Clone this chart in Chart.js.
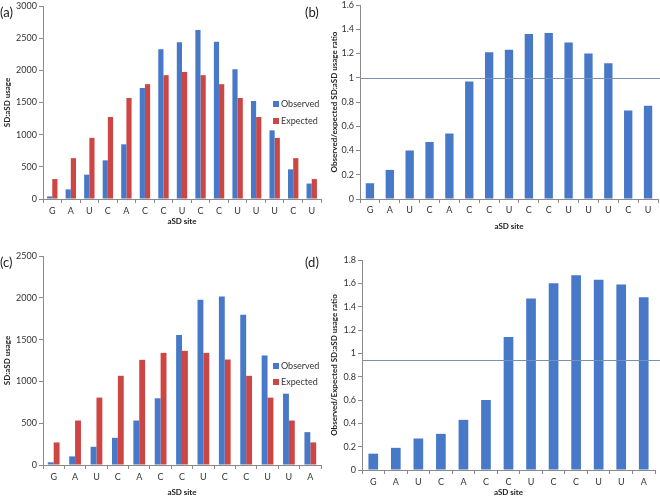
<!DOCTYPE html>
<html>
<head>
<meta charset="utf-8">
<script src="https://cdn.jsdelivr.net/npm/chart.js@4"></script>
<style>
  body { margin: 0; background: #fff; }
  #wrap { position: relative; width: 660px; height: 498px; font-family: Lato, sans-serif; }
  .pane { position: absolute; }
  .tag { position: absolute; font-size: 13px; color: #222; line-height: 13px; }
</style>
</head>
<body>
<div id="wrap">
  <div class="pane" style="left:0;top:0;width:330px;height:240px"><canvas id="chartA"></canvas></div>
  <div class="pane" style="left:330px;top:0;width:330px;height:240px"><canvas id="chartB"></canvas></div>
  <div class="pane" style="left:0;top:250px;width:330px;height:248px"><canvas id="chartC"></canvas></div>
  <div class="pane" style="left:330px;top:250px;width:330px;height:248px"><canvas id="chartD"></canvas></div>
  <div class="tag" style="left:0;top:6px">(a)</div>
  <div class="tag" style="left:305px;top:6px">(b)</div>
  <div class="tag" style="left:0;top:256px">(c)</div>
  <div class="tag" style="left:305px;top:256px">(d)</div>
</div>
<script>
// panels (a)/(b): 15 sites
var sitesA = ['G', 'A', 'U', 'C', 'A', 'C', 'C', 'U', 'C', 'C', 'U', 'U', 'U', 'C', 'U'];
var observedA = [40, 150, 378, 601, 850, 1725, 2326, 2435, 2627, 2446, 2016, 1523, 1067, 461, 240];
var expectedA = [310, 635, 950, 1275, 1570, 1785, 1925, 1975, 1925, 1785, 1570, 1275, 950, 635, 310];
var ratioB = [0.13, 0.24, 0.40, 0.47, 0.54, 0.97, 1.21, 1.23, 1.36, 1.37, 1.29, 1.20, 1.12, 0.73, 0.77];

// panels (c)/(d): 13 sites
var sitesC = ['G', 'A', 'U', 'C', 'A', 'C', 'C', 'U', 'C', 'C', 'U', 'U', 'A'];
var observedC = [32, 103, 218, 325, 532, 798, 1556, 1976, 2016, 1798, 1310, 853, 393];
var expectedC = [270, 532, 806, 1067, 1258, 1341, 1365, 1341, 1262, 1067, 806, 532, 270];
var ratioD = [0.14, 0.19, 0.27, 0.31, 0.43, 0.60, 1.14, 1.47, 1.60, 1.67, 1.63, 1.59, 1.48];

// y axis ranges [max, step] and reference lines
var usageAxisA = [3000, 500];
var usageAxisC = [2500, 500];
var ratioAxisB = [1.6, 0.2];
var ratioAxisD = [1.8, 0.2];
var refLineB = 1;
var refLineD = 0.94;

var blue = '#4879c8';
var red = '#cd4643';
var axisGray = '#8a8a8a';
var textColor = '#333';

// legend drawn inside the plot, like the original
var boxLegend = {
  id: 'boxLegend',
  afterDraw: function (chart, args, opts) {
    if (!opts.show) return;
    var ctx = chart.ctx;
    ctx.save();
    ctx.font = '9px Lato';
    ctx.textBaseline = 'middle';
    chart.data.datasets.forEach(function (ds, i) {
      var y = opts.y + i * opts.gap;
      ctx.fillStyle = ds.backgroundColor;
      ctx.fillRect(opts.x, y - 3, 6, 6);
      ctx.fillStyle = textColor;
      ctx.fillText(ds.label, opts.x + 8, y);
    });
    ctx.restore();
  }
};

var refLine = {
  id: 'refLine',
  afterDatasetsDraw: function (chart, args, opts) {
    if (opts.value == null) return;
    var y = chart.scales.y.getPixelForValue(opts.value);
    var ctx = chart.ctx;
    ctx.save();
    ctx.strokeStyle = '#7890b2';
    ctx.lineWidth = 1;
    ctx.beginPath();
    ctx.moveTo(chart.chartArea.left, Math.round(y) + 0.5);
    ctx.lineTo(chart.chartArea.right + opts.extend, Math.round(y) + 0.5);
    ctx.stroke();
    ctx.restore();
  }
};

function scales(p) {
  return {
    x: {
      grid: { drawOnChartArea: false, tickLength: 4, color: axisGray, offset: true },
      border: { color: axisGray },
      ticks: { color: textColor, font: { family: 'Lato', size: 9 }, padding: p.xPad, maxRotation: 0, autoSkip: false },
      title: { display: true, text: 'aSD site', color: '#222', font: { family: 'Lato', size: 8, weight: 'bold' }, padding: { top: 0, bottom: p.xTitlePad } },
      afterFit: function (s) { s.height = p.xHeight; s.paddingLeft = 0; s.paddingRight = 0; }
    },
    y: {
      min: 0,
      max: p.axis[0],
      grid: { drawOnChartArea: false, tickLength: 4, color: axisGray },
      border: { color: axisGray },
      ticks: {
        stepSize: p.axis[1],
        color: textColor,
        font: { family: 'Lato', size: 9 },
        padding: 2,
        callback: function (v) { return String(+v.toFixed(1)); }
      },
      title: { display: true, text: p.yTitle, color: '#222', font: { family: 'Lato', size: 8, weight: 'bold' }, padding: { top: p.yTitlePad, bottom: 0 } },
      afterFit: function (s) { s.width = p.yWidth; s.paddingTop = 0; s.paddingBottom = 0; }
    }
  };
}

function makeChart(id, labels, datasets, p) {
  new Chart(document.getElementById(id), {
    type: 'bar',
    data: { labels: labels, datasets: datasets },
    options: {
      responsive: true,
      maintainAspectRatio: false,
      animation: false,
      layout: { padding: p.pad },
      datasets: { bar: { categoryPercentage: p.cat, barPercentage: p.bar } },
      plugins: {
        legend: { display: false },
        tooltip: { enabled: false },
        boxLegend: p.legend || { show: false },
        refLine: { value: p.ref, extend: p.refExtend || 0 }
      },
      scales: scales(p)
    },
    plugins: [boxLegend, refLine]
  });
}

makeChart('chartA', sitesA, [
  { label: 'Observed', data: observedA, backgroundColor: blue },
  { label: 'Expected', data: expectedA, backgroundColor: red }
], {
  axis: usageAxisA, yTitle: 'SD:aSD usage', yWidth: 43, yTitlePad: 3,
  xHeight: 41, xPad: 3, xTitlePad: 14,
  pad: { top: 6, right: 9, left: 0, bottom: 0 },
  cat: 0.56, bar: 1,
  legend: { show: true, x: 273, y: 104, gap: 17 }
});

makeChart('chartB', sitesA, [
  { label: 'Observed/expected', data: ratioB, backgroundColor: blue }
], {
  axis: ratioAxisB, yTitle: 'Observed/expected SD:aSD usage ratio', yWidth: 30, yTitlePad: 0,
  xHeight: 41, xPad: 2, xTitlePad: 9,
  pad: { top: 5, right: 2, left: 0, bottom: 0 },
  cat: 1, bar: 0.42,
  ref: refLineB, refExtend: 2
});

makeChart('chartC', sitesC, [
  { label: 'Observed', data: observedC, backgroundColor: blue },
  { label: 'Expected', data: expectedC, backgroundColor: red }
], {
  axis: usageAxisC, yTitle: 'SD:aSD usage', yWidth: 43, yTitlePad: 3,
  xHeight: 33, xPad: 3, xTitlePad: 1,
  pad: { top: 6, right: 9, left: 0, bottom: 0 },
  cat: 0.55, bar: 1,
  legend: { show: true, x: 273, y: 116, gap: 16 }
});

makeChart('chartD', sitesC, [
  { label: 'Observed/Expected', data: ratioD, backgroundColor: blue }
], {
  axis: ratioAxisD, yTitle: 'Observed/Expected SD:aSD usage ratio', yWidth: 32, yTitlePad: 0,
  xHeight: 28, xPad: 3, xTitlePad: 1,
  pad: { top: 10, right: 5, left: 0, bottom: 0 },
  cat: 1, bar: 0.43,
  ref: refLineD, refExtend: 5
});
</script>
</body>
</html>
